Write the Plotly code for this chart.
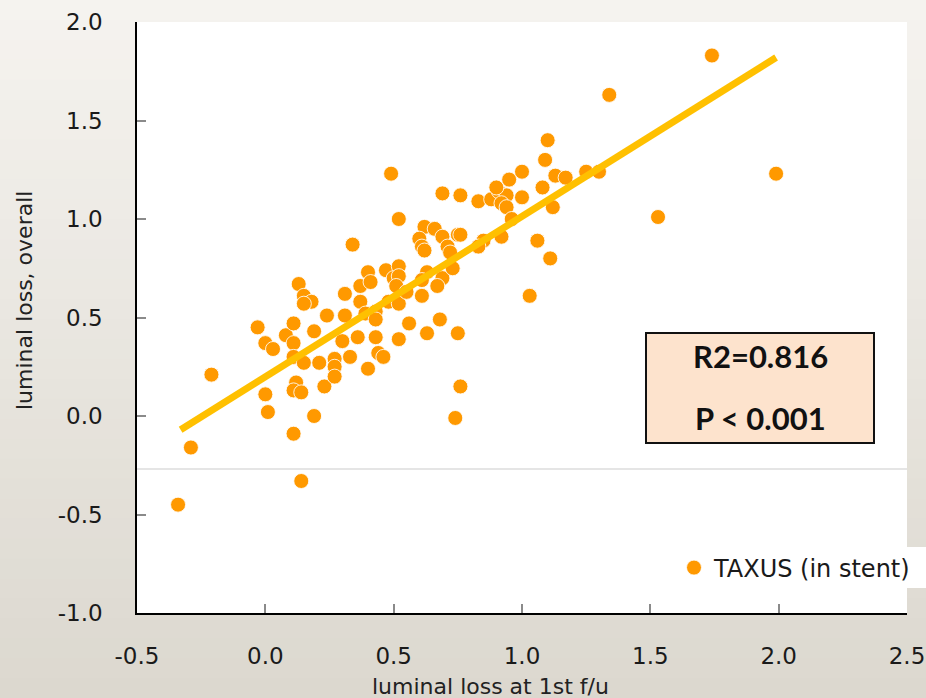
import plotly.graph_objects as go

# ---- data ----
loss_first_fu = [-0.34, -0.29, -0.21, -0.03, 0.00, 0.03, 0.00, 0.01, 0.08, 0.11,
                 0.11, 0.11, 0.13, 0.15, 0.18, 0.15, 0.12, 0.11, 0.14, 0.11,
                 0.14, 0.15, 0.19, 0.21, 0.19, 0.24, 0.23, 0.27, 0.27, 0.27,
                 0.30, 0.31, 0.31, 0.33, 0.34, 0.37, 0.37, 0.40, 0.41, 0.39,
                 0.43, 0.43, 0.36, 0.43, 0.44, 0.46, 0.40, 0.47, 0.52, 0.50,
                 0.52, 0.51, 0.48, 0.52, 0.55, 0.61, 0.52, 0.56, 0.63, 0.68,
                 0.75, 0.49, 0.52, 0.62, 0.66, 0.69, 0.60, 0.61, 0.62, 0.71,
                 0.72, 0.75, 0.76, 0.63, 0.61, 0.69, 0.67, 0.73, 0.69, 0.76,
                 0.83, 0.88, 0.91, 0.94, 0.92, 0.94, 1.00, 0.90, 0.95, 1.00,
                 1.09, 1.10, 1.08, 1.12, 1.13, 1.17, 1.25, 1.30, 0.96, 0.85,
                 0.83, 0.92, 1.06, 1.11, 1.03, 0.74, 0.76, 1.34, 1.74, 1.99, 1.53]
loss_overall = [-0.45, -0.16, 0.21, 0.45, 0.37, 0.34, 0.11, 0.02, 0.41, 0.47,
                0.37, 0.30, 0.67, 0.61, 0.58, 0.57, 0.17, 0.13, 0.12, -0.09,
                -0.33, 0.27, 0.43, 0.27, 0.00, 0.51, 0.15, 0.29, 0.25, 0.20,
                0.38, 0.62, 0.51, 0.30, 0.87, 0.66, 0.58, 0.73, 0.68, 0.52,
                0.53, 0.49, 0.40, 0.40, 0.32, 0.30, 0.24, 0.74, 0.76, 0.70,
                0.71, 0.66, 0.58, 0.57, 0.63, 0.61, 0.39, 0.47, 0.42, 0.49,
                0.42, 1.23, 1.00, 0.96, 0.95, 0.91, 0.90, 0.86, 0.84, 0.86,
                0.83, 0.92, 0.92, 0.73, 0.69, 0.70, 0.66, 0.75, 1.13, 1.12,
                1.09, 1.10, 1.14, 1.12, 1.08, 1.06, 1.11, 1.16, 1.20, 1.24,
                1.30, 1.40, 1.16, 1.06, 1.22, 1.21, 1.24, 1.24, 1.00, 0.89,
                0.86, 0.91, 0.89, 0.80, 0.61, -0.01, 0.15, 1.63, 1.83, 1.23, 1.01]
fit_x = [-0.33, 1.99]
fit_y = [-0.07, 1.82]
x_ticks = [-0.5, 0.0, 0.5, 1.0, 1.5, 2.0, 2.5]
x_tick_labels = ["-0.5", "0.0", "0.5", "1.0", "1.5", "2.0", "2.5"]
y_ticks = [-1.0, -0.5, 0.0, 0.5, 1.0, 1.5, 2.0]
y_tick_labels = ["-1.0", "-0.5", "0.0", "0.5", "1.0", "1.5", "2.0"]
series_name = "TAXUS (in stent)"
stats_lines = ["R2=0.816", "P < 0.001"]
x_title = "luminal loss at 1st f/u"
y_title = "luminal loss, overall"

W, H = 926, 698
L, R, T, B = 137, 19, 22, 85
pw, ph = W - L - R, H - T - B


def px2paper_x(px):
    return (px - L) / pw


def px2paper_y(py):
    return (H - B - py) / ph


fig = go.Figure()
fig.add_trace(go.Scatter(
    x=loss_first_fu, y=loss_overall, mode="markers", name=series_name,
    marker=dict(color="#ff9900", size=15, line=dict(color="rgba(255,255,255,0.85)", width=1)),
))
fig.add_trace(go.Scatter(
    x=fit_x, y=fit_y, mode="lines", showlegend=False,
    line=dict(color="#ffc000", width=7),
))

shapes = []
# gradient background bands
top_c = (245, 243, 239)
bot_c = (220, 216, 207)
n = 35
for i in range(n):
    t = i / (n - 1)
    c = tuple(int(round(top_c[k] + (bot_c[k] - top_c[k]) * t)) for k in range(3))
    y0 = i * H / n
    y1 = (i + 1) * H / n + 1
    shapes.append(dict(type="rect", xref="paper", yref="paper", layer="below",
                       x0=px2paper_x(0), x1=px2paper_x(W),
                       y0=px2paper_y(y1), y1=px2paper_y(y0),
                       fillcolor="rgb(%d,%d,%d)" % c, line=dict(width=0)))
# white plot area
shapes.append(dict(type="rect", xref="paper", yref="paper", layer="below",
                   x0=0, x1=1, y0=0, y1=1, fillcolor="white", line=dict(width=0)))
# light horizontal rule
shapes.append(dict(type="line", xref="paper", yref="paper", layer="below",
                   x0=0, x1=1, y0=px2paper_y(469), y1=px2paper_y(469),
                   line=dict(color="#dcdcdc", width=1.5)))
# legend white box
shapes.append(dict(type="rect", xref="paper", yref="paper", layer="below",
                   x0=px2paper_x(660), x1=px2paper_x(W), y0=px2paper_y(588), y1=px2paper_y(547),
                   fillcolor="white", line=dict(width=0)))
# stats box
shapes.append(dict(type="rect", xref="paper", yref="paper", layer="above",
                   x0=px2paper_x(646), x1=px2paper_x(874), y0=px2paper_y(443), y1=px2paper_y(333),
                   fillcolor="#fde3cd", line=dict(color="#111111", width=2)))

annotations = [
    dict(text=stats_lines[0], xref="paper", yref="paper", x=px2paper_x(760), y=px2paper_y(356),
         showarrow=False, xanchor="center", yanchor="middle",
         font=dict(family="Lato", size=31, color="#111111", weight="bold")),
    dict(text=stats_lines[1], xref="paper", yref="paper", x=px2paper_x(760), y=px2paper_y(418),
         showarrow=False, xanchor="center", yanchor="middle",
         font=dict(family="Lato", size=31, color="#111111", weight="bold")),
    dict(text=x_title, xref="paper", yref="paper",
         x=px2paper_x(490), y=px2paper_y(686), showarrow=False,
         xanchor="center", yanchor="middle",
         font=dict(family="DejaVu Sans", size=22, color="#222222")),
    dict(text=y_title, xref="paper", yref="paper",
         x=px2paper_x(24), y=px2paper_y(301), showarrow=False, textangle=-90,
         xanchor="center", yanchor="middle",
         font=dict(family="DejaVu Sans", size=22, color="#222222")),
]

axis_common = dict(
    showgrid=False, zeroline=False, showline=True, linecolor="#000000", linewidth=1.5,
    ticks="inside", ticklen=9, tickwidth=2, tickcolor="#8a8a8a",
    tickfont=dict(family="DejaVu Sans", size=23, color="#1a1a1a"),
    mirror=False,
)

fig.update_layout(
    width=W, height=H,
    margin=dict(l=L, r=R, t=T, b=B, pad=0, autoexpand=False),
    paper_bgcolor="rgb(233,230,224)",
    plot_bgcolor="rgba(0,0,0,0)",
    xaxis=dict(range=[-0.5, 2.5], tickvals=x_ticks, ticktext=x_tick_labels,
               ticklabelstandoff=22, **axis_common),
    yaxis=dict(range=[-1.0, 2.0], tickvals=y_ticks, ticktext=y_tick_labels,
               ticklabelstandoff=28, **axis_common),
    shapes=shapes,
    annotations=annotations,
    showlegend=True,
    legend=dict(x=px2paper_x(674), y=px2paper_y(568), xanchor="left", yanchor="middle",
                bgcolor="rgba(0,0,0,0)", borderwidth=0,
                font=dict(family="DejaVu Sans", size=24, color="#1a1a1a")),
)

fig.write_html("out.html")
